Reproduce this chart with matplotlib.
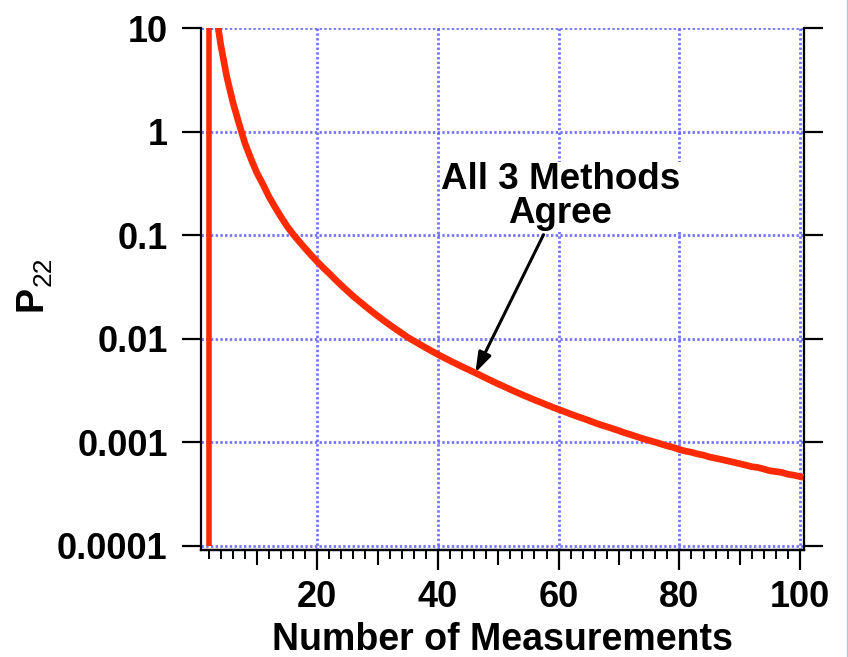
import matplotlib
matplotlib.use('Agg')
import matplotlib.pyplot as plt
from matplotlib.lines import Line2D

plt.rcParams['font.family'] = ['Liberation Sans', 'DejaVu Sans']

# ---------------- data ----------------
n_meas = list(range(3, 101))
p22 = [17.0, 7.0, 3.43, 1.95, 1.22, 0.78, 0.55, 0.40, 0.31, 0.236,
       0.187, 0.150, 0.122, 0.102, 0.087, 0.0745, 0.0640, 0.0555, 0.0484, 0.0426,
       0.0372, 0.0327, 0.0289, 0.0256, 0.0229, 0.0205, 0.0184, 0.0166, 0.0150, 0.0136,
       0.0124, 0.0113, 0.0103, 0.00953, 0.00881, 0.00816, 0.00757, 0.00703, 0.00656, 0.00612,
       0.00573, 0.00537, 0.00504, 0.00473, 0.00443, 0.00415, 0.00389, 0.00365, 0.00344, 0.00323,
       0.00304, 0.00287, 0.00271, 0.00256, 0.00243, 0.00230, 0.00218, 0.00207, 0.00197, 0.00187,
       0.00178, 0.00170, 0.00162, 0.00154, 0.00147, 0.00141, 0.00135, 0.00129, 0.00123, 0.00118,
       0.00113, 0.00108, 0.00104, 0.00100, 0.00096, 0.00092, 0.00089, 0.00085, 0.00082, 0.00080,
       0.00077, 0.00075, 0.00072, 0.00070, 0.00068, 0.00066, 0.00064, 0.00062, 0.00060, 0.00058,
       0.00057, 0.00055, 0.00053, 0.00052, 0.00051, 0.00049, 0.00048, 0.000465]
vline_x = 2

x_major = [20, 40, 60, 80, 100]
x_labels = ['20', '40', '60', '80', '100']
x_mid = [10, 30, 50, 70, 90]
x_minor = list(range(2, 101, 2))
y_major = [1e-4, 1e-3, 1e-2, 1e-1, 1, 10]
y_labels = ['0.0001', '0.001', '0.01', '0.1', '1', '10']

annot_text = 'All 3 Methods\nAgree'
annot_tip = (46.2, 0.0047)
annot_tail = (57.5, 0.101)
annot_pos = (60.3, 0.235)

xlabel = 'Number of Measurements'

# ---------------- figure ----------------
RED = '#ff2a00'
GRID = '#5c5cff'

fig = plt.figure(figsize=(8.48, 6.57), dpi=100)
ax = fig.add_axes([201/848, 107/657, 603/848, 522/657])

ax.set_yscale('log')
ax.set_xlim(0.75, 100.65)
ax.set_ylim(9.1e-5, 10)

ax.vlines(vline_x, y_major[0], y_major[-1], color=RED, lw=4.0, zorder=3)
ax.plot(n_meas, p22, color=RED, lw=4.8, zorder=3, solid_joinstyle='round')

ax.set_xticks(x_major)
ax.set_xticklabels(x_labels)
ax.set_xticks(x_minor, minor=True)
ax.set_yticks(y_major)
ax.set_yticklabels(y_labels)
ax.yaxis.set_minor_locator(matplotlib.ticker.NullLocator())

ax.grid(True, which='major', color=GRID, lw=2.0, alpha=0.85,
        linestyle=(0, (0.85, 0.85)))
ax.set_axisbelow(True)

for sp in ['left', 'right', 'bottom']:
    ax.spines[sp].set_linewidth(1.6)
ax.spines['top'].set_visible(False)

ax.tick_params(axis='x', which='major', direction='out', length=14.4, width=1.6,
               pad=7, labelsize=26)
ax.tick_params(axis='x', which='minor', direction='out', length=6.6, width=1.4)
ax.tick_params(axis='y', which='major', direction='out', length=14, width=1.6,
               right=True, labelright=False, pad=10, labelsize=26)
for lab in ax.get_xticklabels() + ax.get_yticklabels():
    lab.set_fontweight('bold')

sec = ax.secondary_xaxis('bottom')
sec.set_xticks(x_mid)
sec.tick_params(direction='out', length=11, width=1.5, labelbottom=False)
sec.spines['bottom'].set_linewidth(1.6)

ax.set_xlabel(xlabel, fontsize=27, fontweight='bold', labelpad=5)

ax.annotate('', xy=annot_tip, xytext=annot_tail,
            arrowprops=dict(arrowstyle='-|>,head_length=0.6,head_width=0.2',
                            lw=2.2, color='black', shrinkA=0, shrinkB=0,
                            mutation_scale=20), zorder=5)
ax.text(annot_pos[0], annot_pos[1], annot_text, ha='center', va='center',
        fontsize=26.5, fontweight='bold', linespacing=0.95, zorder=6,
        bbox=dict(boxstyle='square,pad=0.02', fc='white', ec='none'))

# y label "P22"
fig.text(31/848, 1 - 299/657, 'P', rotation=90, ha='center', va='center',
         fontsize=27, fontweight='bold')
fig.text(44/848, 1 - 271/657, '22', rotation=90, ha='center', va='center',
         fontsize=19)

fig.add_artist(Line2D([846.5/848, 846.5/848], [0, 1], transform=fig.transFigure,
                      color='#b4bcff', lw=1))

fig.savefig('out.png', dpi=100)
